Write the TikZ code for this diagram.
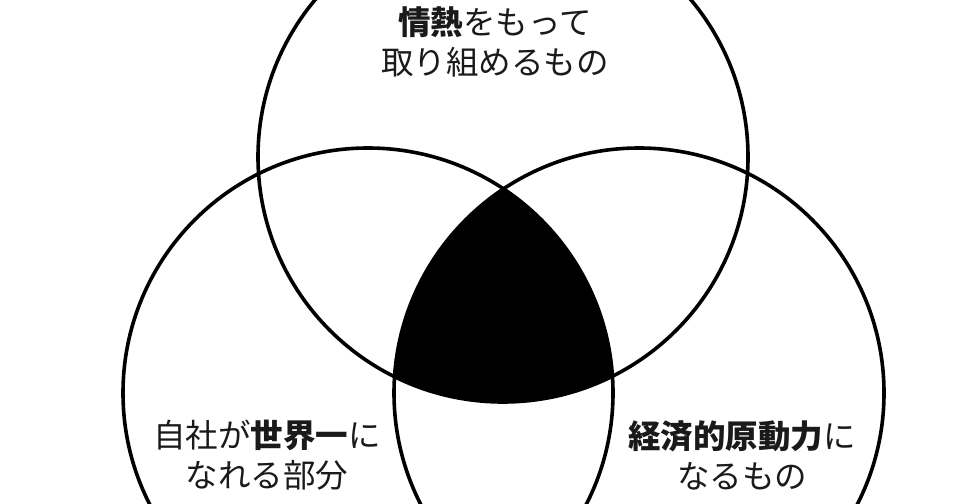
\documentclass[tikz,border=0pt]{standalone}
\usepackage{fontspec}
\setmainfont{Noto Sans CJK JP}
\newfontfamily\jpfont{Noto Sans CJK JP}
\definecolor{ink}{HTML}{1A1A1A}
\begin{document}
\begin{tikzpicture}[x=1pt,y=-1pt,
  ring/.style={draw=black,line width=3.6pt},
  label/.style={align=center,text=ink,inner sep=0pt,font=\jpfont\fontsize{32.5}{40}\selectfont}]
\fill[white] (0,0) rectangle (960,503);
\useasboundingbox (0,0) rectangle (960,503);
\coordinate (ctop) at (503,157);
\coordinate (cleft) at (368,393);
\coordinate (cright) at (639,393);
\begin{scope}
  \clip (ctop) circle [radius=245pt];
  \clip (cleft) circle [radius=245pt];
  \fill[black] (cright) circle [radius=245pt];
\end{scope}
\draw[ring] (ctop) circle [radius=245pt];
\draw[ring] (cleft) circle [radius=245pt];
\draw[ring] (cright) circle [radius=245pt];
\node[label] (ttop) at (495,42) {{\bfseries 情熱}をもって\\取り組めるもの};
\node[label] (tleft) at (267,455) {自社が{\bfseries 世界一}に\\なれる部分};
\node[label] (tright) at (742,455) {{\bfseries 経済的原動力}に\\なるもの};
\end{tikzpicture}
\end{document}
